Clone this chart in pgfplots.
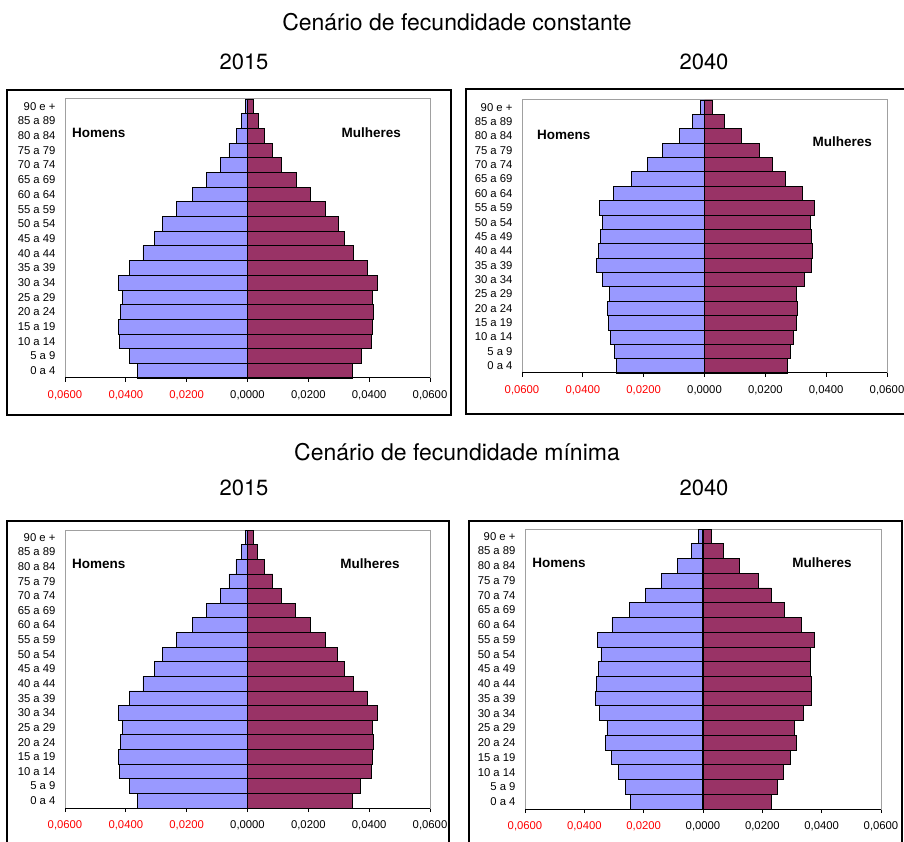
\documentclass[border=0pt]{standalone}
\usepackage{pgfplots}
\pgfplotsset{compat=1.18}
\usepackage{pgfplotstable}
\usepackage{fontspec}
\setmainfont{Liberation Sans}
\newfontfamily\heros{TeX Gyre Heros}

\definecolor{homem}{HTML}{9999FF}
\definecolor{mulher}{HTML}{993366}
\definecolor{moldura}{HTML}{A0A0A0}

% i = faixa etaria (0 = 0 a 4 ... 18 = 90 e +), h = homens (negativo), m = mulheres
\pgfplotstableread{
i h m
0 -0.0363 0.0345
1 -0.0389 0.0374
2 -0.0421 0.0408
3 -0.0425 0.0411
4 -0.0418 0.0415
5 -0.0410 0.0411
6 -0.0425 0.0428
7 -0.0389 0.0393
8 -0.0344 0.0348
9 -0.0307 0.0318
10 -0.0279 0.0298
11 -0.0233 0.0256
12 -0.0182 0.0207
13 -0.0134 0.0159
14 -0.0089 0.0112
15 -0.0061 0.0083
16 -0.0037 0.0056
17 -0.0020 0.0035
18 -0.0007 0.0018
}\constA

\pgfplotstableread{
i h m
0 -0.0290 0.0273
1 -0.0296 0.0283
2 -0.0309 0.0293
3 -0.0316 0.0303
4 -0.0319 0.0306
5 -0.0313 0.0303
6 -0.0336 0.0329
7 -0.0355 0.0352
8 -0.0349 0.0355
9 -0.0342 0.0352
10 -0.0336 0.0349
11 -0.0346 0.0362
12 -0.0299 0.0322
13 -0.0240 0.0267
14 -0.0188 0.0224
15 -0.0138 0.0181
16 -0.0082 0.0122
17 -0.0039 0.0066
18 -0.0013 0.0026
}\constB

\pgfplotstableread{
i h m
0 -0.0362 0.0346
1 -0.0389 0.0372
2 -0.0420 0.0407
3 -0.0424 0.0410
4 -0.0417 0.0415
5 -0.0410 0.0410
6 -0.0424 0.0428
7 -0.0389 0.0393
8 -0.0344 0.0349
9 -0.0307 0.0317
10 -0.0279 0.0297
11 -0.0234 0.0256
12 -0.0182 0.0207
13 -0.0134 0.0158
14 -0.0089 0.0112
15 -0.0061 0.0083
16 -0.0038 0.0056
17 -0.0020 0.0034
18 -0.0007 0.0018
}\minA

\pgfplotstableread{
i h m
0 -0.0244 0.0230
1 -0.0262 0.0251
2 -0.0285 0.0272
3 -0.0310 0.0296
4 -0.0328 0.0313
5 -0.0324 0.0309
6 -0.0348 0.0338
7 -0.0364 0.0365
8 -0.0358 0.0365
9 -0.0352 0.0362
10 -0.0344 0.0362
11 -0.0355 0.0375
12 -0.0307 0.0331
13 -0.0248 0.0275
14 -0.0193 0.0230
15 -0.0140 0.0187
16 -0.0085 0.0124
17 -0.0038 0.0069
18 -0.0015 0.0028
}\minB

\pgfplotsset{
  piramide/.style={
    scale only axis, anchor=south west, clip=false,
    xmin=-0.06, xmax=0.06, ymin=-0.5, ymax=18.5,
    xbar, bar width=1,
    axis line style={moldura, line width=1pt},
    scaled x ticks=false,
    xtick={-0.06,-0.04,-0.02,0,0.02,0.04,0.06},
    xticklabels={{\textcolor{red}{0,0600}},{\textcolor{red}{0,0400}},{\textcolor{red}{0,0200}},{0,0000},{0,0200},{0,0400},{0,0600}},
    xtick pos=left, tick align=outside,
    xtick style={black, line width=0.8pt},
    major tick length=4pt,
    ytick={0,...,18},
    yticklabels={0 a 4,5 a 9,10 a 14,15 a 19,20 a 24,25 a 29,30 a 34,35 a 39,40 a 44,45 a 49,50 a 54,55 a 59,60 a 64,65 a 69,70 a 74,75 a 79,80 a 84,85 a 89,90 e +},
    ytick style={draw=none},
    ticklabel style={font=\fontsize{11.3}{13}\selectfont},
    yticklabel style={xshift=-2pt},
    xticklabel style={yshift=-5pt},
  },
  homens/.style={fill=homem, draw=black, line width=0.7pt, bar shift=0pt},
  mulheres/.style={fill=mulher, draw=black, line width=0.7pt, bar shift=0pt},
}

\newcommand{\fechar}{%
  \draw[black, line width=1pt] (rel axis cs:0,0) -- (rel axis cs:1,0);
  \draw[black, line width=1.3pt] (axis cs:0,-0.5) -- (axis cs:0,18.5);}

\tikzset{rot/.style={font=\bfseries\fontsize{13.5}{15}\selectfont, inner sep=0pt}}

\begin{document}
\begin{tikzpicture}
\useasboundingbox (0pt,0pt) rectangle (904pt,841pt);

% titulos
\node[font=\heros\fontsize{23}{26}\selectfont] at (457pt,819pt) {Cenário de fecundidade constante};
\node[font=\heros\fontsize{22}{25}\selectfont] at (244pt,779pt) {2015};
\node[font=\heros\fontsize{22}{25}\selectfont] at (704pt,779pt) {2040};
\node[font=\heros\fontsize{23}{26}\selectfont] at (457pt,389pt) {Cenário de fecundidade mínima};
\node[font=\heros\fontsize{22}{25}\selectfont] at (244pt,353pt) {2015};
\node[font=\heros\fontsize{22}{25}\selectfont] at (704pt,353pt) {2040};

% molduras
\draw[black, line width=1.3pt] (7pt,426pt) rectangle (451pt,751pt);
\draw[black, line width=1.3pt] (466pt,427pt) rectangle (910pt,752pt);
\draw[black, line width=1.3pt] (7pt,-10pt) rectangle (449pt,320pt);
\draw[black, line width=1.3pt] (469pt,-10pt) rectangle (902pt,320pt);

\begin{axis}[piramide, at={(65pt,463pt)}, width=365pt, height=279pt]
  \addplot[homens] table[x=h, y=i] {\constA};
  \addplot[mulheres] table[x=m, y=i] {\constA};
  \fechar
  \node[rot, anchor=west] at (axis cs:-0.0577,16.2) {Homens};
  \node[rot, anchor=east] at (axis cs:0.0505,16.2) {Mulheres};
\end{axis}

\begin{axis}[piramide, at={(522pt,468pt)}, width=365pt, height=273pt]
  \addplot[homens] table[x=h, y=i] {\constB};
  \addplot[mulheres] table[x=m, y=i] {\constB};
  \fechar
  \node[rot, anchor=west] at (axis cs:-0.0551,16.1) {Homens};
  \node[rot, anchor=east] at (axis cs:0.0551,15.6) {Mulheres};
\end{axis}

\begin{axis}[piramide, at={(65pt,33pt)}, width=365pt, height=278pt]
  \addplot[homens] table[x=h, y=i] {\minA};
  \addplot[mulheres] table[x=m, y=i] {\minA};
  \fechar
  \node[rot, anchor=west] at (axis cs:-0.0577,16.2) {Homens};
  \node[rot, anchor=east] at (axis cs:0.0501,16.2) {Mulheres};
\end{axis}

\begin{axis}[piramide, at={(525pt,32pt)}, width=356pt, height=280pt]
  \addplot[homens] table[x=h, y=i] {\minB};
  \addplot[mulheres] table[x=m, y=i] {\minB};
  \fechar
  \node[rot, anchor=west] at (axis cs:-0.0576,16.2) {Homens};
  \node[rot, anchor=east] at (axis cs:0.0502,16.2) {Mulheres};
\end{axis}
\end{tikzpicture}
\end{document}
